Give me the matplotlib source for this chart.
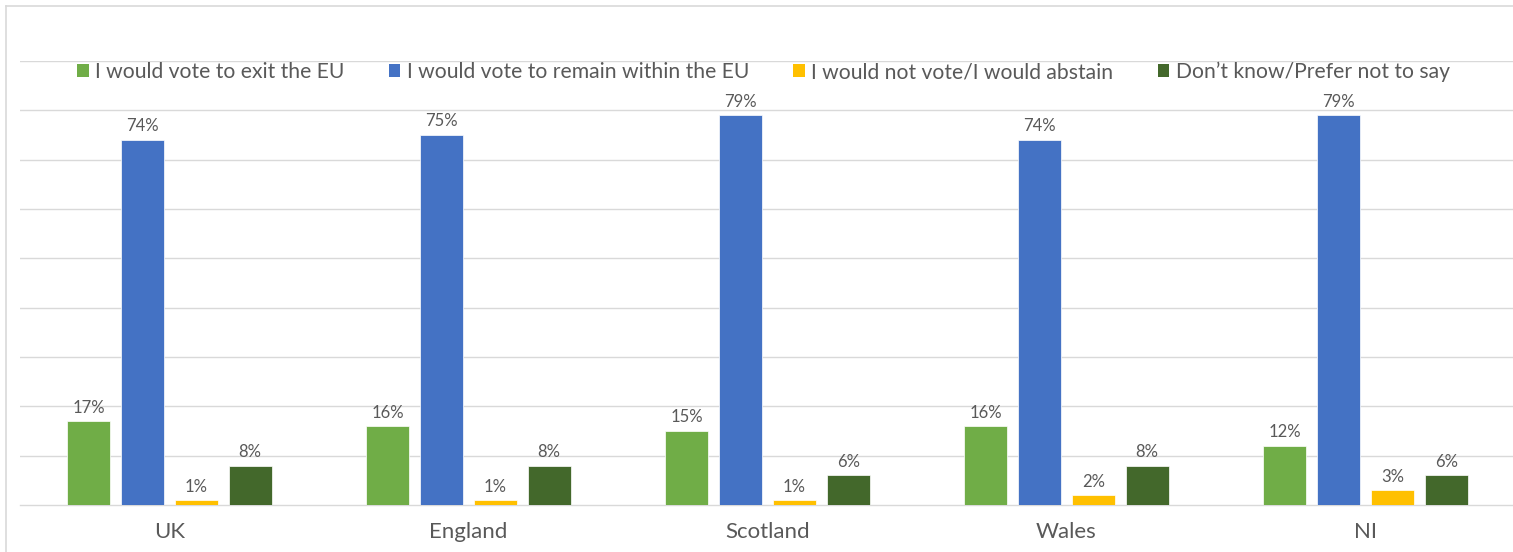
import matplotlib
matplotlib.use('Agg')
import matplotlib.pyplot as plt
from matplotlib.patches import Patch
from matplotlib.lines import Line2D
import numpy as np

plt.rcParams['font.family'] = ['Lato', 'DejaVu Sans']

regions = ['UK', 'England', 'Scotland', 'Wales', 'NI']
series_names = ['I would vote to exit the EU',
                'I would vote to remain within the EU',
                'I would not vote/I would abstain',
                'Don\u2019t know/Prefer not to say']
exit_eu = [17, 16, 15, 16, 12]
remain_eu = [74, 75, 79, 74, 79]
abstain = [1, 1, 1, 2, 3]
dont_know = [8, 8, 6, 8, 6]
yticks = [10, 20, 30, 40, 50, 60, 70, 80, 90]

colors = ['#70AD47', '#4472C4', '#FFC000', '#43682B']
grey = '#595959'
grid = '#D9D9D9'

W, H = 1513, 552
fig = plt.figure(figsize=(W / 100, H / 100), dpi=100)
ax = fig.add_axes([20 / W, 1 - 505 / H, (1515 - 20) / W, (505 - 61) / H])

x = np.arange(len(regions))
bw = 0.144
step = 0.18
for k, vals in enumerate([exit_eu, remain_eu, abstain, dont_know]):
    bars = ax.bar(x + (k - 1.5) * step, vals, width=bw, color=colors[k],
                  edgecolor='white', linewidth=0.5, zorder=3)
    ax.bar_label(bars, labels=[f'{v}%' for v in vals], padding=4,
                 fontsize=12, color=grey)

ax.set_xlim(-0.5, 4.5)
ax.set_ylim(0, 90)
ax.set_yticks(yticks)
ax.yaxis.grid(True, color=grid, linewidth=1, zorder=0)
ax.set_axisbelow(True)
ax.tick_params(axis='y', length=0, labelleft=False)
ax.set_xticks(x)
ax.set_xticklabels(regions, fontsize=16, color=grey)
ax.tick_params(axis='x', length=0, pad=12)
for s in ['top', 'right', 'left']:
    ax.spines[s].set_visible(False)
ax.spines['bottom'].set_color(grid)
ax.spines['bottom'].set_linewidth(1)

handles = [Patch(facecolor=c, edgecolor='none') for c in colors]
fig.legend(handles, series_names, loc='center', ncol=4,
           bbox_to_anchor=((20 + 1515) / 2 / W - 4 / W, 1 - 72 / H),
           frameon=False, fontsize=15.2, labelcolor=grey,
           handlelength=0.55, handleheight=0.55, handletextpad=0.3,
           columnspacing=2.1)

# outer frame
fig.add_artist(Line2D([5.5 / W, 5.5 / W], [0, 1 - 5.5 / H], color=grid,
                      linewidth=1.2, transform=fig.transFigure))
fig.add_artist(Line2D([5.5 / W, 1], [1 - 5.5 / H, 1 - 5.5 / H], color=grid,
                      linewidth=1.2, transform=fig.transFigure))

fig.savefig('out.png', dpi=100, facecolor='white')
